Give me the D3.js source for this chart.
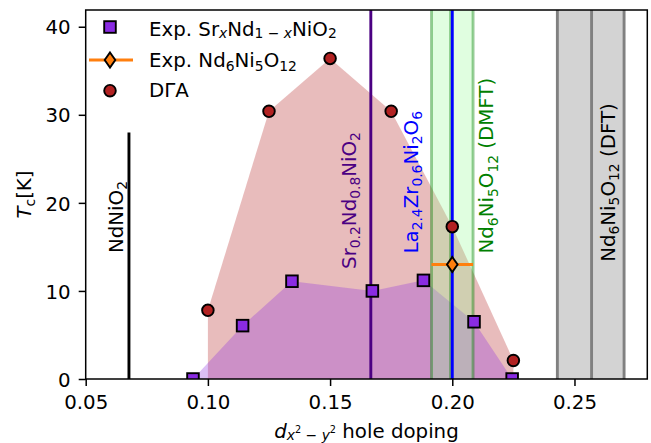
<!DOCTYPE html>
<html><head><meta charset="utf-8">
<script src="https://cdn.jsdelivr.net/npm/d3@7"></script>
<style>body{margin:0;background:#fff} svg text{font-family:"DejaVu Sans",sans-serif}</style>
</head><body><svg id="c" width="651" height="443"></svg>
<script>
// ---- data ----
const dgaDoping = [0.10, 0.125, 0.15, 0.175, 0.20, 0.225];
const dgaTc     = [7.8, 30.4, 36.4, 30.4, 17.3, 2.1];
const srDoping  = [0.0939, 0.1142, 0.1344, 0.1673, 0.1882, 0.2089, 0.2245];
const srTc      = [0, 6.06, 11.1, 10.0, 11.2, 6.5, 0];
const ndDoping  = [0.20];
const ndTc      = [13.0];
const ndErr     = [0.0085];
const ndnio2X = 0.0677, ndnio2Top = 28;
const srLineX = 1/6;
const laLineX = 0.20;
const dmftBand = [0.1915, 0.1993, 0.2085];
const dftBand  = [0.243, 0.257, 0.2703];
const xTicks = [0.05, 0.10, 0.15, 0.20, 0.25];
const yTicks = [0, 10, 20, 30, 40];
const annotations = [
  {x: 0.0652, y: 14.3, text: "NdNiO_{2}", color: "#000"},
  {x: 0.1605, y: 12.5, text: "Sr_{0.2}Nd_{0.8}NiO_{2}", color: "#4b0082"},
  {x: 0.1860, y: 14.25, text: "La_{2.4}Zr_{0.6}Ni_{2}O_{6}", color: "#0000ff"},
  {x: 0.2168, y: 14.25, text: "Nd_{6}Ni_{5}O_{12} (DMFT)", color: "#008000"},
  {x: 0.2667, y: 13.3, text: "Nd_{6}Ni_{5}O_{12} (DFT)", color: "#000"}
];

// ---- setup ----
const FS = 19.8;
const svg = d3.select("#c");
const m = {l: 85.7, r: 647.3, t: 10, b: 379};
const x = d3.scaleLinear().domain([0.05, 0.2798]).range([m.l, m.r]);
const y = d3.scaleLinear().domain([0, 41.9]).range([m.b, m.t]);

svg.append("defs").append("clipPath").attr("id", "clip")
  .append("rect").attr("x", m.l).attr("y", m.t).attr("width", m.r - m.l).attr("height", m.b - m.t);
const plot = svg.append("g").attr("clip-path", "url(#clip)");

function rich(t, parts) {
  let prev = 0;
  parts.forEach(p => {
    const ts = t.append("tspan").text(p.t).attr("font-size", FS * (p.s || 1));
    const off = p.o || 0;
    if (off !== prev) ts.attr("dy", off - prev);
    prev = off;
    if (p.i) ts.attr("font-style", "italic");
  });
}
function chem(str, drop) {
  const parts = [];
  const re = /_\{([^}]*)\}|([^_]+)/g;
  let mm;
  while ((mm = re.exec(str)) !== null) {
    if (mm[1] !== undefined) parts.push({t: mm[1], s: 0.7, o: drop});
    else parts.push({t: mm[2]});
  }
  return parts;
}

// ---- fills ----
const area = d3.area().x(d => x(d[0])).y0(y(0)).y1(d => y(d[1]));
plot.append("path").datum(dgaDoping.map((d, i) => [d, dgaTc[i]]))
  .attr("d", area).attr("fill", "#b22222").attr("fill-opacity", 0.3);
plot.append("path").datum(srDoping.map((d, i) => [d, srTc[i]]))
  .attr("d", area).attr("fill", "#8a2be2").attr("fill-opacity", 0.3);

// ---- bands ----
plot.append("rect").attr("x", x(dftBand[0])).attr("y", m.t)
  .attr("width", x(dftBand[2]) - x(dftBand[0])).attr("height", m.b - m.t).attr("fill", "#d3d3d3");
dftBand.forEach(v => plot.append("line").attr("x1", x(v)).attr("x2", x(v)).attr("y1", m.t).attr("y2", m.b)
  .attr("stroke", "#808080").attr("stroke-width", 2.9));
plot.append("rect").attr("x", x(dmftBand[0])).attr("y", m.t)
  .attr("width", x(dmftBand[2]) - x(dmftBand[0])).attr("height", m.b - m.t)
  .attr("fill", "#98fb98").attr("fill-opacity", 0.3);
dmftBand.forEach(v => plot.append("line").attr("x1", x(v)).attr("x2", x(v)).attr("y1", m.t).attr("y2", m.b)
  .attr("stroke", "#008000").attr("stroke-opacity", 0.4).attr("stroke-width", 2.9));

// ---- vertical lines ----
plot.append("line").attr("x1", x(srLineX)).attr("x2", x(srLineX)).attr("y1", m.t).attr("y2", m.b)
  .attr("stroke", "#4b0082").attr("stroke-width", 2.9);
plot.append("line").attr("x1", x(laLineX)).attr("x2", x(laLineX)).attr("y1", m.t).attr("y2", m.b)
  .attr("stroke", "#0000ff").attr("stroke-width", 2.9);
plot.append("line").attr("x1", x(ndnio2X)).attr("x2", x(ndnio2X)).attr("y1", y(0)).attr("y2", y(ndnio2Top))
  .attr("stroke", "#000").attr("stroke-width", 2.9);

// ---- annotations ----
annotations.forEach(a => {
  const t = svg.append("text").attr("fill", a.color)
    .attr("transform", `translate(${x(a.x)},${y(a.y)}) rotate(-90)`);
  rich(t, chem(a.text, 4.2));
});

// ---- errorbar + markers ----
const diamond = "M0,-7.5L5.3,0L0,7.5L-5.3,0Z";
ndDoping.forEach((d, i) => {
  plot.append("line").attr("x1", x(d - ndErr[i])).attr("x2", x(d + ndErr[i]))
    .attr("y1", y(ndTc[i])).attr("y2", y(ndTc[i])).attr("stroke", "#ff7f0e").attr("stroke-width", 2.9);
});
plot.selectAll(".sq").data(srDoping.map((d, i) => [d, srTc[i]])).enter().append("rect")
  .attr("x", d => x(d[0]) - 5.8).attr("y", d => y(d[1]) - 5.8).attr("width", 11.6).attr("height", 11.6)
  .attr("fill", "#8a2be2").attr("stroke", "#000").attr("stroke-width", 1.9);
plot.selectAll(".ci").data(dgaDoping.map((d, i) => [d, dgaTc[i]])).enter().append("circle")
  .attr("cx", d => x(d[0])).attr("cy", d => y(d[1])).attr("r", 5.8)
  .attr("fill", "#b22222").attr("stroke", "#000").attr("stroke-width", 1.9);
plot.selectAll(".di").data(ndDoping.map((d, i) => [d, ndTc[i]])).enter().append("path")
  .attr("d", diamond).attr("transform", d => `translate(${x(d[0])},${y(d[1])})`)
  .attr("fill", "#ff7f0e").attr("stroke", "#000").attr("stroke-width", 1.9);

// ---- axes ----
const xAxis = svg.append("g").attr("transform", `translate(0,${m.b})`)
  .call(d3.axisBottom(x).tickValues(xTicks).tickFormat(d3.format(".2f")).tickSize(7).tickPadding(9).tickSizeOuter(0));
const yAxis = svg.append("g").attr("transform", `translate(${m.l},0)`)
  .call(d3.axisLeft(y).tickValues(yTicks).tickSize(7).tickPadding(8).tickSizeOuter(0));
[xAxis, yAxis].forEach(g => {
  g.select(".domain").remove();
  g.selectAll("line").attr("stroke", "#000").attr("stroke-width", 1.5);
  g.selectAll("text").attr("font-size", FS).attr("font-family", "DejaVu Sans").attr("fill", "#000");
});
yAxis.selectAll("text").attr("dy", "0.36em");
svg.append("rect").attr("x", m.l).attr("y", m.t).attr("width", m.r - m.l).attr("height", m.b - m.t)
  .attr("fill", "none").attr("stroke", "#000").attr("stroke-width", 1.5);

// ---- axis labels ----
const xl = svg.append("text").attr("x", (m.l + m.r) / 2).attr("y", 438).attr("text-anchor", "middle");
rich(xl, [{t: "d", i: true}, {t: "x", i: true, s: 0.7, o: 1.5}, {t: "2", s: 0.49, o: -5},
  {t: " − ", s: 0.7, o: 1.5}, {t: "y", i: true, s: 0.7, o: 1.5}, {t: "2", s: 0.49, o: -5}, {t: " hole doping", o: 0}]);
const yl = svg.append("text").attr("transform", `translate(31,${(m.t + m.b) / 2}) rotate(-90)`)
  .attr("text-anchor", "middle");
rich(yl, [{t: "T", i: true}, {t: "c", s: 0.7, o: 3.5}, {t: "[K]", o: 0}]);

// ---- legend ----
const lg = svg.append("g");
lg.append("rect").attr("x", 110 - 5.8).attr("y", 27 - 5.8).attr("width", 11.6).attr("height", 11.6)
  .attr("fill", "#8a2be2").attr("stroke", "#000").attr("stroke-width", 1.9);
lg.append("line").attr("x1", 89).attr("x2", 133).attr("y1", 60).attr("y2", 60)
  .attr("stroke", "#ff7f0e").attr("stroke-width", 2.9);
lg.append("path").attr("d", diamond).attr("transform", "translate(110,60)")
  .attr("fill", "#ff7f0e").attr("stroke", "#000").attr("stroke-width", 1.9);
lg.append("circle").attr("cx", 110).attr("cy", 90.7).attr("r", 5.8)
  .attr("fill", "#b22222").attr("stroke", "#000").attr("stroke-width", 1.9);
const l1 = lg.append("text").attr("x", 149).attr("y", 36);
rich(l1, [{t: "Exp. Sr"}, {t: "x", i: true, s: 0.7, o: 2}, {t: "Nd", o: 0}, {t: "1 − ", s: 0.7, o: 2},
  {t: "x", i: true, s: 0.7, o: 2}, {t: "NiO", o: 0}, {t: "2", s: 0.7, o: 2}]);
const l2 = lg.append("text").attr("x", 149).attr("y", 66.7);
rich(l2, [{t: "Exp. "}].concat(chem("Nd_{6}Ni_{5}O_{12}", 4.2)));
const l3 = lg.append("text").attr("x", 149).attr("y", 97.3);
rich(l3, [{t: "DΓA"}]);
</script></body></html>
